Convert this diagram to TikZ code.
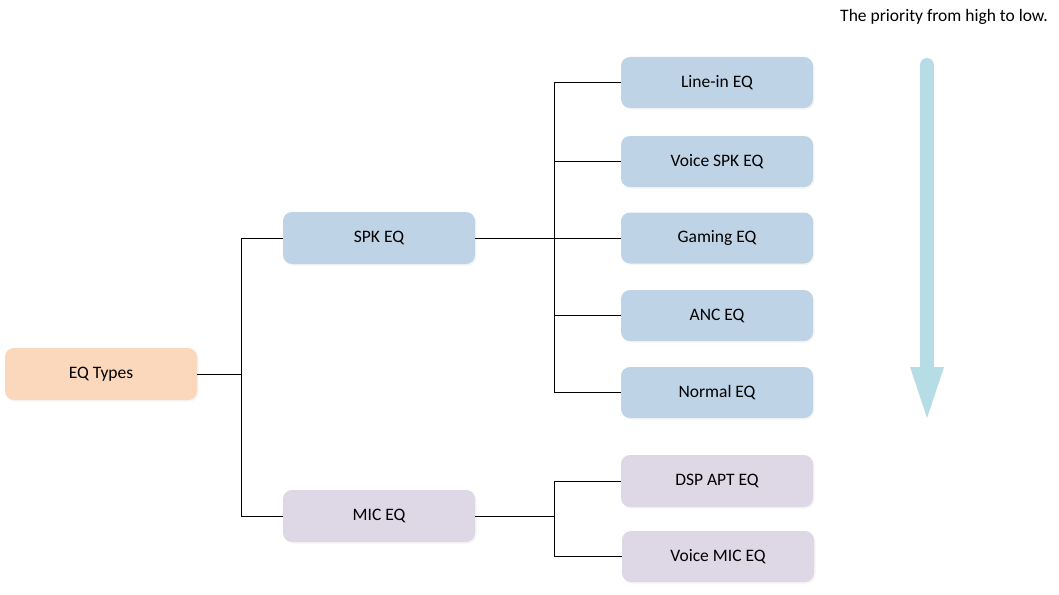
\documentclass[tikz,border=0pt]{standalone}
\usepackage{fontspec}
\setmainfont{Carlito}
\usetikzlibrary{shadows,arrows.meta}
\definecolor{peach}{RGB}{251,215,187}
\definecolor{spkblue}{RGB}{190,211,230}
\definecolor{micpurple}{RGB}{221,215,230}
\definecolor{arrowblue}{RGB}{182,220,230}
\tikzset{
  box/.style={rounded corners=9pt, minimum width=192pt, minimum height=52pt, inner sep=0pt,
    font=\fontsize{17.5}{20}\selectfont, text=black,
    drop shadow={shadow xshift=1.5pt, shadow yshift=-1.5pt, fill=black!8, opacity=0.5}},
  rootbox/.style={box, fill=peach},
  spkbox/.style={box, fill=spkblue},
  micbox/.style={box, fill=micpurple},
  conn/.style={draw=black, line width=1pt},
}
\begin{document}
\begin{tikzpicture}[x=1pt,y=-1pt]
\useasboundingbox (0,0) rectangle (1059,594);
\node[rootbox] (root) at (101,374) {EQ Types};
\node[spkbox] (spk) at (379,238) {SPK EQ};
\node[micbox] (mic) at (379,516) {MIC EQ};
\node[spkbox, minimum height=51pt] (line) at (717,82.5) {Line-in EQ};
\node[spkbox, minimum height=51pt] (vspk) at (717,161.5) {Voice SPK EQ};
\node[spkbox, minimum height=51pt] (gam) at (717,238) {Gaming EQ};
\node[spkbox, minimum height=51pt] (anc) at (717,315.5) {ANC EQ};
\node[spkbox, minimum height=51pt] (norm) at (717,392.5) {Normal EQ};
\node[micbox] (dsp) at (717,481) {DSP APT EQ};
\node[micbox, minimum height=51pt] (vmic) at (718,556.5) {Voice MIC EQ};

\coordinate (j1) at (241,374);
\coordinate (j2) at (554,238);
\coordinate (j3) at (554,516);

\draw[conn] (root.east) -- (j1);
\draw[conn] (j1) |- (spk.west);
\draw[conn] (j1) |- (mic.west);

\draw[conn] (spk.east) -- (gam.west);
\draw[conn] (j2) |- (line.west);
\draw[conn] (j2) |- (vspk.west);
\draw[conn] (j2) |- (anc.west);
\draw[conn] (j2) |- (norm.west);

\draw[conn] (mic.east) -- (j3);
\draw[conn] (j3) |- (dsp.west);
\draw[conn] (j3) |- (vmic.west);

\node[anchor=east, inner sep=0pt, font=\fontsize{17.5}{20}\selectfont] (prio) at (1048,17) {The priority from high to low.};

\coordinate (atop) at (927,65);
\coordinate (ahead) at (927,368);
\coordinate (atip) at (927,418);
\draw[arrowblue, line width=14pt, line cap=round] (atop) -- (ahead);
\fill[arrowblue] (910,367) -- (944,367) -- (atip) -- cycle;
\end{tikzpicture}
\end{document}
